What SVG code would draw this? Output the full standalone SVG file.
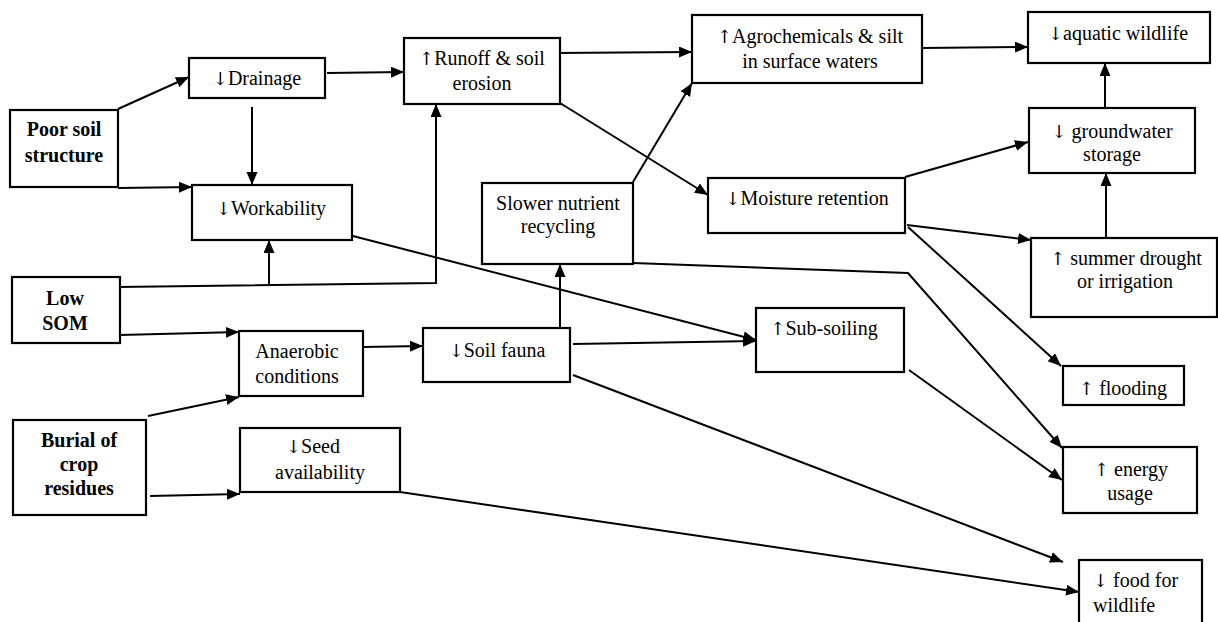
<svg xmlns="http://www.w3.org/2000/svg" width="1218" height="622" viewBox="0 0 1218 622">
<style>
.box{fill:#fff;stroke:#000;stroke-width:2.2}
text{font-family:"Liberation Serif","Times New Roman",serif;font-size:20px;fill:#000;text-anchor:middle}
.ar{font-family:"DejaVu Serif","DejaVu Sans",serif;font-size:18px;fill:#000}
.b{font-weight:bold}
.c{fill:none;stroke:#000;stroke-width:2}
</style>
<defs>
<marker id="ah" markerUnits="userSpaceOnUse" markerWidth="14" markerHeight="12" refX="13" refY="5.5" orient="auto">
<path d="M0,0 L13,5.5 L0,11 z" fill="#000"/>
</marker>
</defs>
<rect width="1218" height="622" fill="#fff"/>
<g id="connectors">
<path class="c" marker-end="url(#ah)" d="M118,109 L189,77"/>
<path class="c" marker-end="url(#ah)" d="M118,188 L192,187"/>
<path class="c" marker-end="url(#ah)" d="M252,107 L252,185"/>
<path class="c" marker-end="url(#ah)" d="M327,73 L404,72"/>
<path class="c" marker-end="url(#ah)" d="M118,287 L436,283 L436,104"/>
<path class="c" marker-end="url(#ah)" d="M269,285 L269,240"/>
<path class="c" marker-end="url(#ah)" d="M120,335 L239,332"/>
<path class="c" marker-end="url(#ah)" d="M148,416 L239,397"/>
<path class="c" marker-end="url(#ah)" d="M150,496 L240,494"/>
<path class="c" marker-end="url(#ah)" d="M363,347 L423,346"/>
<path class="c" marker-end="url(#ah)" d="M560,327 L560,264"/>
<path class="c" marker-end="url(#ah)" d="M633,182 L692,83"/>
<path class="c" marker-end="url(#ah)" d="M555,53 L692,52"/>
<path class="c" marker-end="url(#ah)" d="M560,103 L708,195"/>
<path class="c" marker-end="url(#ah)" d="M922,48 L1028,47"/>
<path class="c" marker-end="url(#ah)" d="M1105,108 L1105,63"/>
<path class="c" marker-end="url(#ah)" d="M905,177 L1028,142"/>
<path class="c" marker-end="url(#ah)" d="M1106,238 L1106,173"/>
<path class="c" marker-end="url(#ah)" d="M907,225 L1031,240"/>
<path class="c" marker-end="url(#ah)" d="M908,227 L1061,366"/>
<path class="c" marker-end="url(#ah)" d="M633,263 L908,273 L1062,448"/>
<path class="c" marker-end="url(#ah)" d="M909,370 L1062,480"/>
<path class="c" marker-end="url(#ah)" d="M349,235 L756,340"/>
<path class="c" marker-end="url(#ah)" d="M573,344 L756,341"/>
<path class="c" marker-end="url(#ah)" d="M573,375 L1063,562"/>
<path class="c" marker-end="url(#ah)" d="M400,492 L1079,592"/>
</g>
<g id="poor-soil-structure"><rect class="box" x="10" y="110" width="108" height="77"/><text class="b" x="64" y="136">Poor soil</text><text class="b" x="64" y="162">structure</text></g>
<g id="drainage"><rect class="box" x="189" y="58" width="136" height="40"/><text x="257" y="85"><tspan class="ar">↓</tspan>Drainage</text></g>
<g id="workability"><rect class="box" x="192" y="185" width="160" height="55"/><text x="271" y="215"><tspan class="ar">↓</tspan>Workability</text></g>
<g id="runoff"><rect class="box" x="404" y="38" width="156" height="66"/><text x="482" y="65"><tspan class="ar">↑</tspan>Runoff &amp; soil</text><text x="482" y="90">erosion</text></g>
<g id="agrochemicals"><rect class="box" x="692" y="15" width="230" height="68"/><text x="810" y="43"><tspan class="ar">↑</tspan>Agrochemicals &amp; silt</text><text x="810" y="68">in surface waters</text></g>
<g id="aquatic-wildlife"><rect class="box" x="1028" y="12" width="182" height="51"/><text x="1118" y="40"><tspan class="ar">↓</tspan>aquatic wildlife</text></g>
<g id="groundwater-storage"><rect class="box" x="1029" y="108" width="166" height="65"/><text x="1112" y="138"><tspan class="ar">↓</tspan> groundwater</text><text x="1112" y="161">storage</text></g>
<g id="moisture-retention"><rect class="box" x="708" y="178" width="197" height="55"/><text x="807" y="205"><tspan class="ar">↓</tspan>Moisture retention</text></g>
<g id="slower-nutrient-recycling"><rect class="box" x="482" y="183" width="151" height="81"/><text x="558" y="210">Slower nutrient</text><text x="558" y="233">recycling</text></g>
<g id="soil-fauna"><rect class="box" x="423" y="328" width="147" height="54"/><text x="497" y="357"><tspan class="ar">↓</tspan>Soil fauna</text></g>
<g id="sub-soiling"><rect class="box" x="756" y="308" width="148" height="64"/><text x="824" y="335"><tspan class="ar">↑</tspan>Sub-soiling</text></g>
<g id="summer-drought"><rect class="box" x="1031" y="238" width="186" height="79"/><text x="1126" y="265"><tspan class="ar">↑</tspan> summer drought</text><text x="1125" y="288">or irrigation</text></g>
<g id="flooding"><rect class="box" x="1063" y="366" width="121" height="39"/><text x="1123" y="395"><tspan class="ar">↑</tspan> flooding</text></g>
<g id="energy-usage"><rect class="box" x="1063" y="447" width="134" height="66"/><text x="1131" y="476"><tspan class="ar">↑</tspan> energy</text><text x="1130" y="500">usage</text></g>
<g id="food-for-wildlife"><rect class="box" x="1079" y="560" width="123" height="70"/><text x="1093" y="587" style="text-anchor:start"><tspan class="ar">↓</tspan> food for</text><text x="1093" y="612" style="text-anchor:start">wildlife</text></g>
<g id="low-som"><rect class="box" x="12" y="277" width="108" height="66"/><text class="b" x="65" y="305">Low</text><text class="b" x="65" y="330">SOM</text></g>
<g id="anaerobic-conditions"><rect class="box" x="239" y="331" width="124" height="65"/><text x="297" y="358">Anaerobic</text><text x="297" y="383">conditions</text></g>
<g id="burial-of-crop-residues"><rect class="box" x="13" y="420" width="133" height="95"/><text class="b" x="79" y="447">Burial of</text><text class="b" x="79" y="471">crop</text><text class="b" x="79" y="495">residues</text></g>
<g id="seed-availability"><rect class="box" x="240" y="428" width="160" height="64"/><text x="313" y="453"><tspan class="ar">↓</tspan>Seed</text><text x="320" y="479">availability</text></g>
</svg>
